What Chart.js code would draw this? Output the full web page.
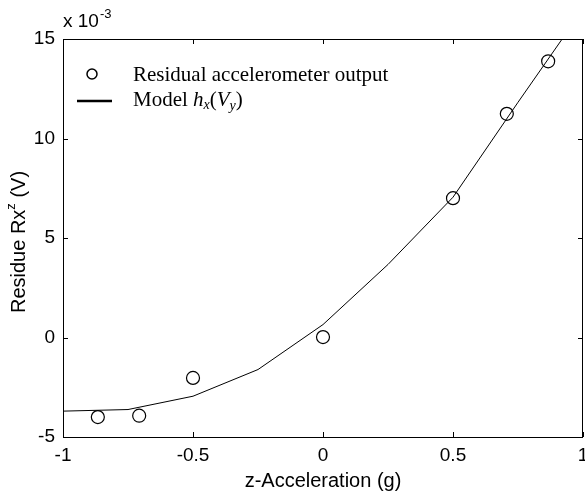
<!DOCTYPE html>
<html>
<head>
<meta charset="utf-8">
<script src="https://cdn.jsdelivr.net/npm/chart.js@4/dist/chart.umd.min.js"></script>
<style>
  html, body { margin: 0; padding: 0; background: #fff; }
  .canvas { width: 585px; height: 497px; }
</style>
</head>
<body>
<div class="canvas"><canvas id="residue"></canvas></div>
<script>
// measured residual (x 10^-3 V) against z acceleration (g)
const accel = [-0.866, -0.707, -0.5, 0, 0.5, 0.707, 0.866];
const residual = [-4.0, -3.93, -2.03, 0.02, 7.0, 11.24, 13.88];

// fitted model h_x(V_y)
const modelAccel = [-1, -0.75, -0.5, -0.25, 0, 0.25, 0.5, 0.75, 1];
const modelResidual = [-3.7, -3.62, -2.95, -1.61, 0.65, 3.67, 7.05, 11.82, 16.5];

const xTicks = [-1, -0.5, 0, 0.5, 1];
const yTicks = [-5, 0, 5, 10, 15];

const sans = "'Liberation Sans', Arial, sans-serif";
const serif = "'Liberation Serif', 'Times New Roman', serif";
const tickFont = { family: sans, size: 19 };
const titleFont = { family: sans, size: 20 };

// box, inward ticks, x tick labels, exponent, y title and legend, MATLAB style
// (x labels drawn here so the "1" can hang past the frame without shrinking it)
const frame = {
  id: "frame",
  afterDraw(chart) {
    const ctx = chart.ctx;
    const a = chart.chartArea;
    const xs = chart.scales.x, ys = chart.scales.y;
    ctx.save();
    ctx.strokeStyle = "#000";
    ctx.lineWidth = 1;
    ctx.strokeRect(a.left + 0.5, a.top + 0.5, a.right - a.left - 1, a.bottom - a.top);
    ctx.beginPath();
    xTicks.forEach((v) => {
      const px = Math.round(xs.getPixelForValue(v)) + 0.5;
      ctx.moveTo(px, a.bottom); ctx.lineTo(px, a.bottom - 5);
      ctx.moveTo(px, a.top); ctx.lineTo(px, a.top + 5);
    });
    yTicks.forEach((v) => {
      const py = Math.round(ys.getPixelForValue(v)) + 0.5;
      ctx.moveTo(a.left, py); ctx.lineTo(a.left + 5, py);
      ctx.moveTo(a.right, py); ctx.lineTo(a.right - 5, py);
    });
    ctx.stroke();

    ctx.fillStyle = "#000";
    ctx.font = tickFont.size + "px " + sans;
    ctx.textAlign = "center";
    ctx.textBaseline = "middle";
    xTicks.forEach((v) => {
      ctx.fillText(String(v), xs.getPixelForValue(v), a.bottom + 19);
    });

    ctx.textBaseline = "alphabetic";
    ctx.textAlign = "left";
    // exponent
    ctx.font = "19px " + sans;
    ctx.fillText("x 10", a.left, 27);
    const w10 = ctx.measureText("x 10").width;
    ctx.font = "13px " + sans;
    ctx.fillText("-3", a.left + w10 + 1, 18);

    // y title with superscript
    ctx.save();
    ctx.translate(25, 242);
    ctx.rotate(-Math.PI / 2);
    ctx.font = "20px " + sans;
    const p1 = "Residue Rx", p3 = " (V)";
    const w1 = ctx.measureText(p1).width;
    const w3 = ctx.measureText(p3).width;
    ctx.font = "13px " + sans;
    const w2 = ctx.measureText("z").width;
    const x0 = -(w1 + w2 + w3) / 2;
    ctx.font = "20px " + sans;
    ctx.fillText(p1, x0, 0);
    ctx.font = "13px " + sans;
    ctx.fillText("z", x0 + w1, -10);
    ctx.font = "20px " + sans;
    ctx.fillText(p3, x0 + w1 + w2, 0);
    ctx.restore();

    // legend
    ctx.beginPath();
    ctx.arc(92, 74, 5, 0, Math.PI * 2);
    ctx.lineWidth = 1.5;
    ctx.stroke();
    ctx.beginPath();
    ctx.moveTo(77, 101); ctx.lineTo(112, 101);
    ctx.lineWidth = 2.5;
    ctx.stroke();
    ctx.font = "21px " + serif;
    ctx.textBaseline = "middle";
    ctx.fillText("Residual accelerometer output", 133, 75);
    let lx = 133;
    const put = (txt, style, size, dy) => {
      ctx.font = style + " " + size + "px " + serif;
      ctx.fillText(txt, lx, 100 + dy);
      lx += ctx.measureText(txt).width;
    };
    put("Model ", "normal", 21, 0);
    put("h", "italic", 21, 0);
    put("x", "italic", 14, 5);
    put("(", "normal", 21, 0);
    put("V", "italic", 21, 0);
    put("y", "italic", 14, 6);
    put(")", "normal", 21, 0);
    ctx.restore();
  },
};

const ctx = document.getElementById("residue").getContext("2d");
new Chart(ctx, {
  type: "scatter",
  data: {
    datasets: [
      {
        label: "Residual accelerometer output",
        data: accel.map((x, i) => ({ x: x, y: residual[i] })),
        pointStyle: "circle",
        pointRadius: 6.5,
        pointBorderWidth: 1.2,
        pointBorderColor: "#000",
        pointBackgroundColor: "rgba(0,0,0,0)",
        order: 1,
      },
      {
        label: "Model",
        type: "line",
        data: modelAccel.map((x, i) => ({ x: x, y: modelResidual[i] })),
        borderColor: "#000",
        borderWidth: 1,
        pointRadius: 0,
        tension: 0,
        fill: false,
        clip: 0,
        order: 2,
      },
    ],
  },
  options: {
    responsive: true,
    maintainAspectRatio: false,
    animation: false,
    layout: { autoPadding: false, padding: { top: 39, right: 2, left: 0, bottom: 0 } },
    plugins: { legend: { display: false }, tooltip: { enabled: false } },
    scales: {
      x: {
        type: "linear",
        min: -1,
        max: 1,
        afterFit: (s) => { s.height = 60; },
        afterBuildTicks: (s) => { s.ticks = xTicks.map((v) => ({ value: v })); },
        grid: { display: false, drawTicks: false },
        border: { display: false },
        ticks: { display: false },
        title: { display: true, text: "z-Acceleration (g)", color: "#000", font: titleFont, padding: { top: 2, bottom: 4 } },
      },
      y: {
        type: "linear",
        min: -5,
        max: 15,
        afterFit: (s) => { s.width = 63; },
        afterBuildTicks: (s) => { s.ticks = yTicks.map((v) => ({ value: v })); },
        grid: { display: false, drawTicks: false },
        border: { display: false },
        ticks: { color: "#000", font: tickFont, padding: 8, callback: (v) => String(v) },
      },
    },
  },
  plugins: [frame],
});
</script>
</body>
</html>
